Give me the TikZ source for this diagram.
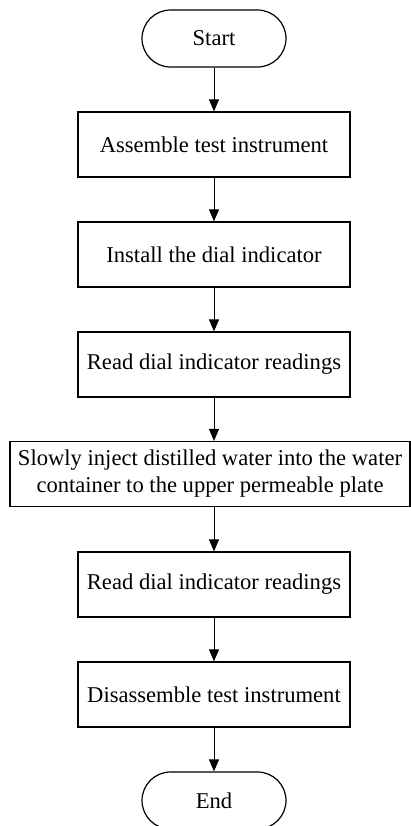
\documentclass[tikz,border=0pt]{standalone}
\usepackage{fontspec}
\setmainfont{Liberation Serif}
\usetikzlibrary{arrows.meta}

\begin{document}
\begin{tikzpicture}
   [x=0.5pt,y=-0.5pt,
    >={Triangle[width=5pt,length=6pt]},
    every node/.style={font=\fontsize{11.3}{13.5}\selectfont},
    stepbox/.style={draw,line width=0.6pt,minimum width=136pt,minimum height=32.5pt,
       inner sep=1pt,align=center},
    termbox/.style={draw,line width=0.6pt,rounded corners=14.25pt,
       minimum width=72pt,minimum height=28.5pt}]
   \useasboundingbox (0,0) rectangle (411,826);

   \node[termbox] (start) at (214,38.5) {Start};
   \node[stepbox] (assemble) at (214,144.5) {Assemble test instrument};
   \node[stepbox] (install) at (214,254.5) {Install the dial indicator};
   \node[stepbox] (readone) at (214,364.5) {Read dial indicator readings};
   \node[stepbox,minimum width=200pt] (inject) at (210,474)
      {Slowly inject distilled water into the water\\container to the upper permeable plate};
   \node[stepbox] (readtwo) at (214,584.5) {Read dial indicator readings};
   \node[stepbox] (disassemble) at (214,694.5) {Disassemble test instrument};
   \node[termbox] (finish) at (214,800.5) {End};

   \begin{scope}[->,line width=0.5pt]
      \draw (start) -- (assemble);
      \draw (assemble) -- (install);
      \draw (install) -- (readone);
      \draw (readone.south) -- (readone.south |- inject.north);
      \draw (inject.south -| readtwo.north) -- (readtwo);
      \draw (readtwo) -- (disassemble);
      \draw (disassemble) -- (finish);
   \end{scope}
\end{tikzpicture}
\end{document}
